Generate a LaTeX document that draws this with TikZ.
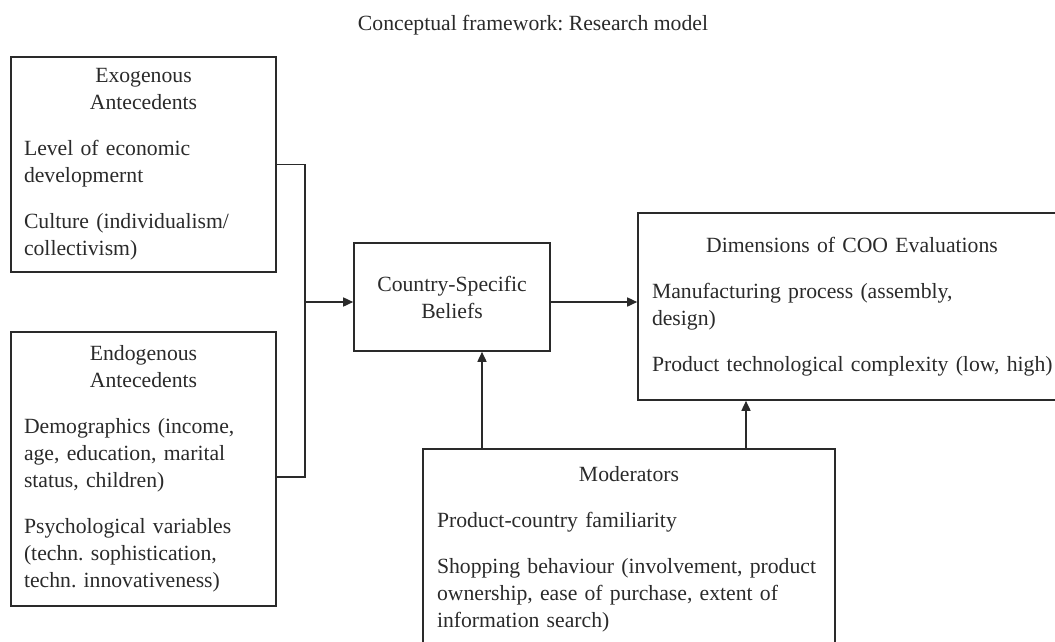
\documentclass[tikz,border=0pt]{standalone}
\usepackage{fontspec}
\setmainfont{Liberation Serif}
\usepackage{xcolor}
\usepackage{tikz}
\usetikzlibrary{arrows.meta}
\definecolor{ink}{HTML}{2A2A2A}
\setlength{\parindent}{0pt}
\frenchspacing

\begin{document}
\begin{tikzpicture}[
  x=1pt, y=-1pt,
  every node/.style={text=ink, font=\fontsize{21.7}{27}\selectfont},
  box/.style={draw=ink, line width=1.6pt, align=left, inner ysep=0pt},
  arr/.style={-{Triangle[length=10pt,width=9pt]}, draw=ink, line width=1.6pt},
  line/.style={draw=ink, line width=1.6pt}
]
\useasboundingbox (0,0) rectangle (1055,641);

\node (title) at (533,25) {Conceptual framework: Research model};

\node[box, text width=239pt, inner xsep=13pt, minimum height=215pt] (exo) at (143.5,164.5)
  {{\centering Exogenous\\Antecedents\par}\vspace{19pt}
   Level of economic\\developmernt\par\vspace{19pt}
   Culture (individualism/\\collectivism)};
\node[box, text width=239pt, inner xsep=13pt, minimum height=274pt] (endo) at (143.5,469)
  {{\centering Endogenous\\Antecedents\par}\vspace{19pt}
   Demographics (income,\\age, education, marital\\status, children)\par\vspace{19pt}
   Psychological variables\\(techn. sophistication,\\techn. innovativeness)};
\node[box, align=center, minimum width=196pt, minimum height=108pt] (csb) at (452,297)
  {Country-Specific\\Beliefs};
\node[box, text width=400pt, inner xsep=14pt, minimum height=187pt] (dim) at (852,306.5)
  {{\centering Dimensions of COO Evaluations\par}\vspace{19pt}
   Manufacturing process (assembly,\\design)\par\vspace{19pt}
   \mbox{Product technological complexity (low, high)}};
\node[box, text width=384pt, inner xsep=14pt, minimum height=201pt] (mod) at (629,549.5)
  {{\centering Moderators\par}\vspace{19pt}
   Product-country familiarity\par\vspace{19pt}
   Shopping behaviour (involvement, product\\ownership, ease of purchase, extent of\\information search)};

\coordinate (join) at (305,302);
\coordinate (m1) at (482,0);
\coordinate (m2) at (746,0);

\draw[line] (exo.east) -| (join);
\draw[line] ([yshift=-8pt]endo.east) -| (join);
\draw[arr] (join) -- (join -| csb.west);
\draw[arr] (join -| csb.east) -- (join -| dim.west);
\draw[arr] (m1 |- mod.north) -- (m1 |- csb.south);
\draw[arr] (m2 |- mod.north) -- (m2 |- dim.south);
\end{tikzpicture}
\end{document}
